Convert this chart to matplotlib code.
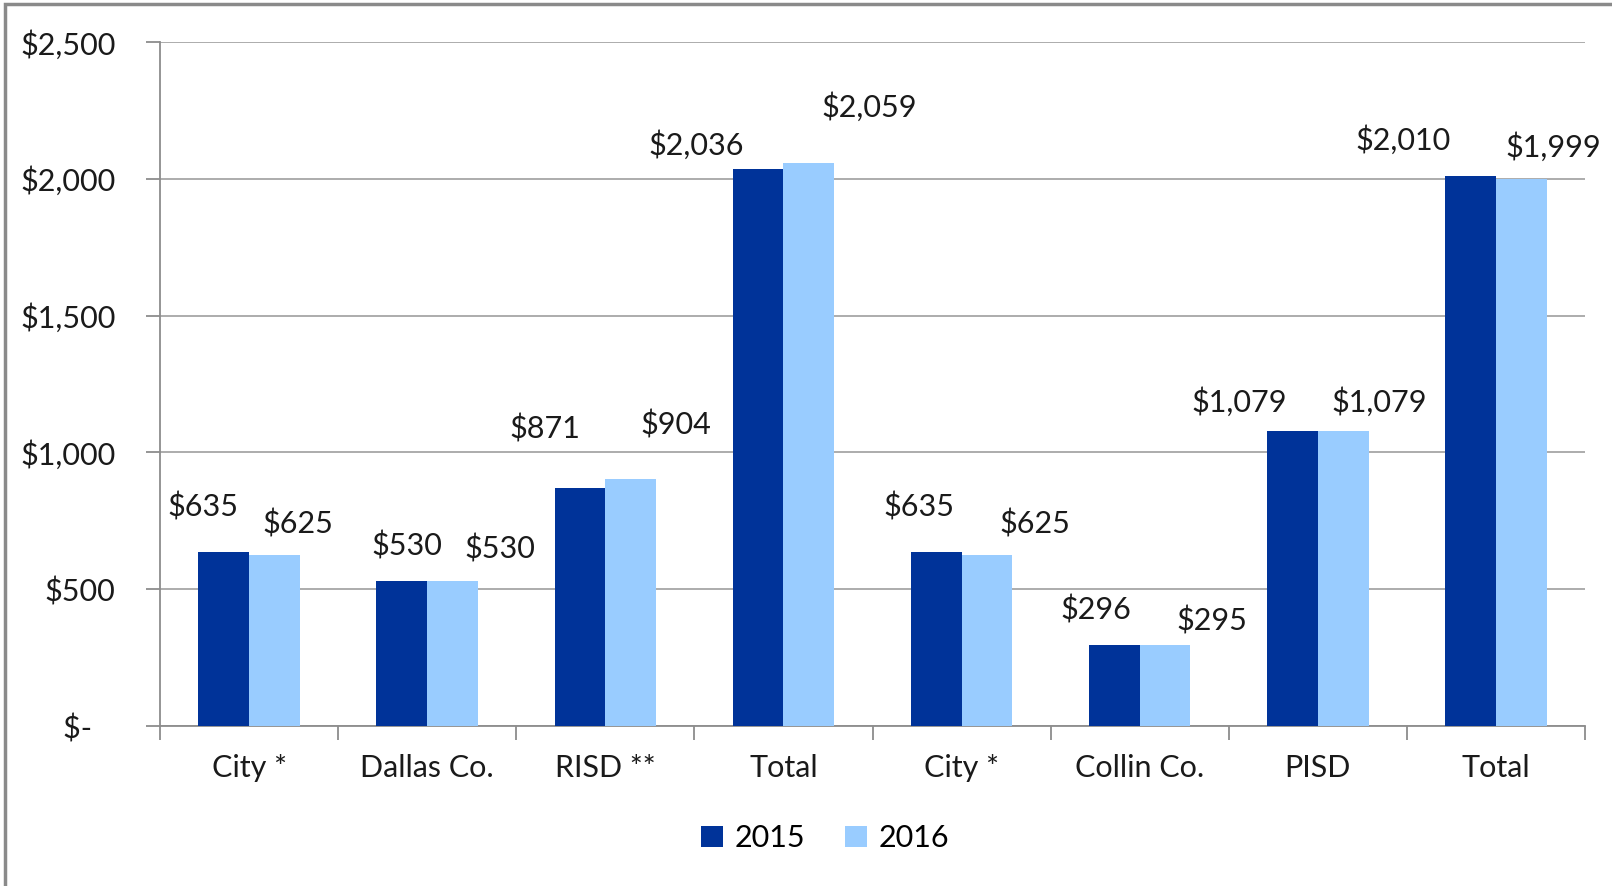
import matplotlib.pyplot as plt
import matplotlib.patches as patches
import numpy as np

plt.rcParams['font.family'] = ['Lato', 'DejaVu Sans']

categories = ['City *', 'Dallas Co.', 'RISD **', 'Total', 'City *', 'Collin Co.', 'PISD', 'Total']
vals_2015 = [635, 530, 871, 2036, 635, 296, 1079, 2010]
vals_2016 = [625, 530, 904, 2059, 625, 295, 1079, 1999]
series_names = ['2015', '2016']
yticks = [0, 500, 1000, 1500, 2000, 2500]

# label offsets (pixels) relative to bar top centre, to mimic Excel placement
off_2015 = [(-21, 45), (5, 35), (-35, 59), (-62, 24), (-17, 45), (-18, 35), (-53, 29), (-67, 36)]
off_2016 = [(23, 31), (47, 32), (45, 54), (60, 56), (48, 31), (47, 24), (36, 29), (32, 32)]

dark = '#003399'
light = '#99CCFF'
grey = '#8C8C8C'
fs = 22

fig = plt.figure(figsize=(16.12, 8.86), dpi=100)
ax = fig.add_axes([160 / 1612, 160 / 886, 1425 / 1612, 684 / 886])

# outer border (left and top visible)
fig.patches.append(patches.Rectangle((5 / 1612, -0.05), 1.2, (882 / 886) + 0.05,
                                     transform=fig.transFigure, fill=False,
                                     edgecolor='#8A8A8A', linewidth=2.5))

x = np.arange(len(categories)) + 0.5
w = 0.285
b1 = ax.bar(x - w / 2, vals_2015, w, color=dark, label=series_names[0], zorder=3)
b2 = ax.bar(x + w / 2, vals_2016, w, color=light, label=series_names[1], zorder=3)

for bars, vals, offs in [(b1, vals_2015, off_2015), (b2, vals_2016, off_2016)]:
    for r, v, (dx, dy) in zip(bars, vals, offs):
        ax.annotate('${:,.0f}'.format(v), (r.get_x() + r.get_width() / 2, v),
                    xytext=(dx, dy), textcoords='offset pixels',
                    ha='center', va='center', fontsize=fs, color='#1a1a1a')

ax.set_xlim(0, len(categories))
ax.set_ylim(0, 2500)
ax.set_yticks(yticks)
ax.set_yticklabels(['$-   '] + ['${:,.0f}'.format(t) for t in yticks[1:]])
ax.yaxis.grid(True, color='#A6A6A6', linewidth=1.3, zorder=0)
ax.set_axisbelow(True)

ax.set_xticks(np.arange(len(categories) + 1))
ax.set_xticklabels([])
ax.set_xticks(x, minor=True)
ax.set_xticklabels(categories, minor=True)
ax.tick_params(axis='x', which='major', length=10, width=1.3, color=grey)
ax.tick_params(axis='x', which='minor', length=0, pad=20, labelsize=fs, labelcolor='#1a1a1a')
ax.tick_params(axis='y', length=10, width=1.3, color=grey, pad=22, labelsize=fs, labelcolor='#1a1a1a')

for s in ['top', 'right']:
    ax.spines[s].set_visible(False)
for s in ['left', 'bottom']:
    ax.spines[s].set_color(grey)
    ax.spines[s].set_linewidth(1.3)

fig.legend(handles=[b1, b2], labels=series_names, loc='center', bbox_to_anchor=(0.512, 48 / 886),
           ncol=2, frameon=False, fontsize=fs, handlelength=0.7, handleheight=0.7,
           handletextpad=0.4, columnspacing=1.3)

fig.savefig('out.png', dpi=100)
